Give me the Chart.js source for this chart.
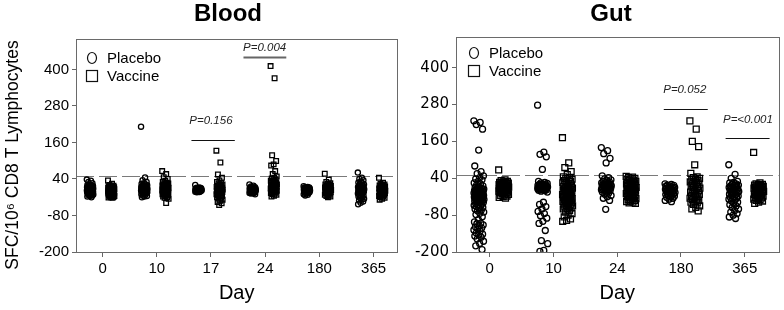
<!DOCTYPE html>
<html><head><meta charset="utf-8">
<script src="https://cdn.jsdelivr.net/npm/chart.js@4"></script>
<style>
html,body{margin:0;padding:0;background:#fff;width:784px;height:310px;overflow:hidden}
#b{position:absolute;left:0;top:0;width:402px;height:310px}
#g{position:absolute;left:402px;top:0;width:382px;height:310px}
</style></head><body>
<div id="b"><canvas id="cb"></canvas></div>
<div id="g"><canvas id="cg"></canvas></div>
<script>
// ---------------- DATA ----------------
const bloodDays = ['0', '10', '17', '24', '180', '365'];
const gutDays = ['0', '10', '24', '180', '365'];
const yTickValues = [-200, -80, 40, 160, 280, 400];
const referenceLevel = 50;
const yAxisTitle = 'SFC/10\u2076 CD8 T Lymphocytes';

const bloodPlacebo = [
  [38, 34, 30, 26, 22, 20, 19, 18, 17, 16, 15, 15, 14, 13, 13, 12, 11, 11, 10, 10, 9, 9, 8, 8, 7, 7, 6, 6, 5, 5, 4, 4, 3, 3, 2, 2, 1, 1, 0, 0, -1, -1, -2, -2, -3, -3, -4, -4, -5, -5, -6, -7, -8, -9, -10, -11, -12, -13, -14, -16, -18, -20],
  [212, 45, 36, 30, 26, 24, 22, 20, 19, 18, 17, 16, 15, 14, 13, 12, 11, 10, 10, 9, 9, 8, 8, 7, 7, 6, 6, 5, 5, 4, 4, 3, 3, 2, 2, 1, 1, 0, 0, -1, -2, -3, -4, -5, -6, -7, -8, -10, -12, -14, -16, -18, -20],
  [20, 12, 11, 10, 10, 9, 9, 8, 8, 7, 7, 7, 6, 6, 6, 5, 5, 5, 4, 4, 4, 3, 3, 3, 2, 2, 2, 1, 1, 1, 0, 0, -1, -1, -2, -3, -4],
  [22, 18, 15, 13, 12, 11, 10, 10, 9, 9, 8, 8, 7, 7, 6, 6, 5, 5, 4, 4, 3, 3, 2, 2, 1, 1, 0, 0, -1, -1, -2, -3, -4, -5, -6, -7, -8, -10],
  [16, 14, 13, 12, 11, 10, 10, 9, 9, 8, 8, 7, 7, 6, 6, 5, 5, 4, 4, 3, 3, 2, 2, 1, 1, 0, 0, -1, -2, -3, -4, -5, -6, -8, -10, -12, -14],
  [61, 44, 40, 36, 32, 28, 26, 24, 22, 20, 18, 17, 16, 14, 13, 12, 11, 10, 9, 8, 7, 6, 5, 4, 3, 2, 1, 0, -1, -2, -3, -4, -5, -6, -8, -10, -12, -14, -16, -18, -20, -22, -25, -28, -31, -34, -38, -43]
];
const bloodVaccine = [
  [35, 24, 20, 18, 17, 16, 15, 14, 13, 12, 12, 11, 10, 10, 9, 9, 8, 8, 7, 7, 6, 6, 5, 5, 4, 4, 3, 3, 2, 2, 1, 1, 0, 0, -1, -1, -2, -2, -3, -3, -4, -4, -5, -5, -6, -6, -7, -8, -9, -10, -11, -12, -13, -14, -15, -16, -17, -18, -19, -20, -21, -22],
  [66, 56, 46, 40, 34, 30, 28, 26, 25, 24, 22, 21, 20, 19, 18, 17, 16, 15, 14, 13, 12, 11, 10, 9, 9, 8, 8, 7, 6, 5, 5, 4, 3, 2, 2, 1, 0, 0, -1, -2, -3, -4, -5, -6, -7, -8, -9, -10, -11, -12, -14, -16, -18, -20, -22, -25, -39],
  [133, 94, 55, 44, 35, 30, 27, 25, 22, 20, 18, 17, 15, 14, 12, 11, 10, 9, 8, 7, 6, 5, 4, 3, 2, 1, 0, -1, -2, -3, -4, -5, -6, -8, -10, -12, -14, -16, -18, -20, -22, -25, -28, -32, -36, -40, -46],
  [411, 371, 118, 99, 88, 84, 66, 56, 48, 44, 42, 38, 36, 34, 32, 30, 28, 27, 26, 24, 23, 22, 21, 20, 19, 18, 17, 16, 15, 14, 13, 12, 11, 10, 9, 8, 7, 6, 5, 4, 3, 2, 1, 0, -1, -2, -4, -6, -8, -10, -12, -15, -18],
  [57, 38, 30, 26, 24, 22, 20, 18, 17, 16, 15, 14, 13, 12, 11, 10, 9, 8, 7, 6, 5, 4, 3, 2, 1, 0, -1, -2, -3, -4, -5, -6, -8, -10, -12, -14, -16, -18, -20],
  [44, 28, 24, 22, 20, 19, 18, 16, 15, 14, 12, 11, 10, 9, 8, 7, 6, 5, 4, 3, 2, 1, 0, -1, -2, -3, -4, -5, -6, -7, -8, -10, -12, -14, -16, -18, -20, -22, -25, -28]
];
const gutPlacebo = [
  [227, 222, 215, 200, 132, 80, 62, 55, 48, 42, 38, 35, 30, 25, 22, 18, 15, 12, 10, 8, 6, 5, 4, 3, 2, 1, 0, -1, -2, -3, -4, -5, -6, -7, -8, -9, -10, -11, -12, -13, -14, -15, -16, -17, -18, -19, -20, -21, -22, -23, -24, -25, -26, -27, -28, -29, -30, -31, -32, -33, -34, -35, -36, -38, -40, -42, -44, -46, -48, -50, -52, -55, -58, -60, -63, -66, -70, -74, -78, -85, -95, -102, -106, -108, -112, -115, -118, -122, -125, -128, -132, -138, -142, -145, -148, -152, -158, -165, -172, -180, -192],
  [278, 125, 118, 110, 69, 30, 27, 25, 23, 21, 20, 19, 18, 17, 16, 15, 15, 14, 14, 13, 13, 12, 12, 11, 11, 10, 10, 9, 9, 8, 8, 7, 7, 6, 6, 5, 4, 3, 2, 1, 0, -2, -5, -38, -45, -52, -60, -68, -75, -82, -90, -100, -107, -130, -163, -173, -195, -198],
  [140, 130, 120, 105, 90, 48, 42, 38, 35, 32, 30, 28, 26, 25, 24, 22, 21, 20, 19, 18, 17, 16, 15, 14, 13, 12, 11, 10, 9, 8, 7, 6, 5, 4, 3, 2, 1, 0, -2, -5, -8, -12, -16, -20, -25, -32, -61],
  [22, 20, 18, 17, 15, 14, 12, 11, 10, 9, 8, 7, 5, 4, 3, 2, 0, -1, -2, -3, -5, -6, -8, -9, -10, -12, -13, -15, -16, -18, -20, -22, -25, -28, -32, -36],
  [84, 53, 40, 30, 27, 25, 22, 20, 18, 17, 15, 14, 12, 10, 9, 7, 5, 4, 2, 0, -2, -3, -5, -6, -8, -10, -12, -14, -16, -18, -20, -22, -24, -26, -28, -30, -34, -38, -42, -46, -50, -55, -60, -65, -70, -75, -80, -86, -91]
];
const gutVaccine = [
  [67, 35, 32, 30, 28, 27, 26, 25, 24, 23, 22, 21, 20, 19, 18, 17, 16, 15, 14, 13, 12, 11, 10, 9, 8, 7, 6, 5, 4, 3, 2, 1, 0, -1, -2, -3, -4, -5, -6, -7, -8, -10, -12, -14, -16, -18, -20, -22, -25],
  [172, 90, 75, 62, 52, 45, 42, 40, 37, 35, 32, 30, 28, 25, 23, 20, 18, 15, 13, 12, 10, 8, 6, 5, 3, 2, 0, -2, -3, -5, -6, -8, -10, -12, -13, -15, -16, -18, -20, -22, -23, -25, -26, -28, -30, -32, -33, -35, -36, -38, -40, -42, -44, -46, -48, -50, -52, -54, -56, -58, -60, -65, -70, -75, -80, -86, -92, -97, -100],
  [46, 44, 42, 40, 38, 36, 34, 32, 30, 28, 26, 25, 24, 22, 20, 18, 17, 15, 14, 12, 11, 10, 8, 7, 5, 4, 2, 1, 0, -2, -3, -5, -6, -8, -10, -12, -14, -16, -18, -20, -22, -24, -26, -28, -30, -32, -34, -36, -38, -40, -42],
  [227, 200, 160, 143, 84, 56, 45, 42, 40, 37, 35, 32, 30, 28, 25, 22, 20, 18, 15, 13, 10, 8, 5, 3, 0, -2, -5, -8, -10, -12, -15, -18, -20, -22, -25, -28, -30, -33, -35, -38, -40, -45, -50, -55, -60, -66],
  [124, 25, 22, 20, 19, 18, 17, 15, 14, 12, 11, 10, 9, 8, 7, 5, 4, 2, 1, 0, -2, -3, -5, -6, -8, -10, -12, -14, -16, -18, -20, -22, -24, -26, -28, -30, -32, -34, -38, -42]
];
const bloodPValues = ['P=0.156', 'P=0.004'];
const gutPValues = ['P=0.052', 'P=<0.001'];

// ---------------- BUILD ----------------
function spread(i, hw) { return (((i * 0.6180339887) % 1) - 0.5) * 2 * hw; }
function toPoints(groups, offset, hw) {
  const pts = [];
  groups.forEach((vals, d) => vals.forEach((v, i) => pts.push({ x: d + offset + spread(i, hw), y: v })));
  return pts;
}

function panelPlugin(p) {
  return {
    id: 'panel',
    beforeDatasetsDraw(chart) {
      const { ctx, chartArea: a, scales: { y } } = chart;
      ctx.save();
      ctx.strokeStyle = '#7a7a7a'; ctx.lineWidth = 1; ctx.setLineDash([18, 5]);
      const yy = Math.round(y.getPixelForValue(referenceLevel)) + 0.5;
      ctx.beginPath(); ctx.moveTo(a.left, yy); ctx.lineTo(a.right, yy); ctx.stroke();
      ctx.restore();
    },
    afterDraw(chart) {
      const { ctx, chartArea: a, scales: { x, y } } = chart;
      ctx.save();
      ctx.strokeStyle = '#6a6a6a'; ctx.lineWidth = 1;
      ctx.strokeRect(Math.round(a.left) + 0.5, Math.round(a.top) + 0.5, Math.round(a.right - a.left), Math.round(a.bottom - a.top));
      ctx.fillStyle = '#000'; ctx.textAlign = 'center'; ctx.textBaseline = 'middle';
      ctx.font = 'bold 24px "Liberation Sans", Arial, sans-serif';
      ctx.fillText(p.title, p.titleX, 14);
      if (p.yTitle) {
        ctx.save();
        ctx.translate(13, 155); ctx.rotate(-Math.PI / 2);
        ctx.font = '17.5px "Liberation Sans", Arial, sans-serif';
        ctx.fillText(yAxisTitle, 0, 0);
        ctx.restore();
      }
      const lx = a.left + p.legX, ly1 = a.top + p.legY, ly2 = ly1 + 18;
      ctx.strokeStyle = '#111'; ctx.lineWidth = 1.2;
      ctx.beginPath(); ctx.ellipse(lx, ly1, 4.5, 5.5, 0, 0, Math.PI * 2); ctx.stroke();
      ctx.strokeRect(lx - 5.5, ly2 - 5.5, 11, 11);
      ctx.textAlign = 'left'; ctx.font = '15px "Liberation Sans", Arial, sans-serif';
      ctx.fillText('Placebo', lx + 15, ly1 + 1);
      ctx.fillText('Vaccine', lx + 15, ly2 + 1);
      p.pvals.forEach((pv, k) => {
        const ln = p.lines[k];
        const yl = Math.round(y.getPixelForValue(ln.y)) + 0.5;
        ctx.strokeStyle = ln.color; ctx.lineWidth = ln.w;
        ctx.beginPath(); ctx.moveTo(x.getPixelForValue(ln.x1), yl); ctx.lineTo(x.getPixelForValue(ln.x2), yl); ctx.stroke();
        ctx.fillStyle = '#222'; ctx.textAlign = 'center'; ctx.textBaseline = 'middle';
        ctx.font = 'italic 11.5px "Liberation Sans", Arial, sans-serif';
        ctx.fillText(pv, x.getPixelForValue(ln.tx), y.getPixelForValue(ln.ty));
      });
      ctx.restore();
    }
  };
}

function makeChart(id, cfg) {
  const tickFont = { family: '"Liberation Sans", Arial, sans-serif', size: 15 };
  new Chart(document.getElementById(id), {
    type: 'scatter',
    data: {
      datasets: [
        { label: 'Placebo', data: toPoints(cfg.placebo, cfg.pOff, cfg.hw), pointStyle: 'circle', pointRadius: cfg.cr,
          borderColor: '#000', backgroundColor: 'rgba(255,255,255,0)', borderWidth: 1.3, pointHoverRadius: cfg.cr },
        { label: 'Vaccine', data: toPoints(cfg.vaccine, cfg.vOff, cfg.hw), pointStyle: 'rect', pointRadius: cfg.sr,
          borderColor: '#000', backgroundColor: 'rgba(255,255,255,0)', borderWidth: 1.3, pointHoverRadius: cfg.sr }
      ]
    },
    options: {
      responsive: true, maintainAspectRatio: false, animation: false, devicePixelRatio: 1,
      layout: { padding: { top: cfg.top, right: cfg.right, left: 0, bottom: 0 } },
      plugins: { legend: { display: false }, tooltip: { enabled: false } },
      scales: {
        x: {
          type: 'linear', min: cfg.xmin, max: cfg.xmax,
          afterBuildTicks: s => { s.ticks = cfg.days.map((_, i) => ({ value: i })); },
          afterFit: s => { s.height = 58; },
          ticks: { callback: v => cfg.days[v], font: tickFont, color: '#000', padding: 3, autoSkip: false, maxRotation: 0 },
          grid: { drawOnChartArea: false, tickLength: 5, color: '#666' },
          border: { color: '#666' },
          title: { display: true, text: 'Day', color: '#000', font: { family: '"Liberation Sans", Arial, sans-serif', size: 20 }, padding: { top: 0, bottom: 5 } }
        },
        y: {
          min: -200, max: 500,
          afterBuildTicks: s => { s.ticks = yTickValues.map(v => ({ value: v })); },
          afterFit: s => { s.width = cfg.yw; },
          ticks: { font: cfg.yFont, color: '#000', padding: 3 },
          grid: { drawOnChartArea: false, tickLength: 4, color: '#666' },
          border: { color: '#666' }
        }
      }
    },
    plugins: [panelPlugin(cfg.panel)]
  });
}

makeChart('cb', {
  days: bloodDays, placebo: bloodPlacebo, vaccine: bloodVaccine,
  pOff: -0.23, vOff: 0.16, hw: 0.06, cr: 2.6, sr: 3.3,
  xmin: -0.49, xmax: 5.44, top: 39, right: 4, yw: 76,
  yFont: { family: '"Liberation Sans", Arial, sans-serif', size: 15 },
  panel: {
    title: 'Blood', titleX: 228, legX: 16, legY: 19, pvals: bloodPValues, yTitle: true,
    lines: [
      { x1: 1.64, x2: 2.44, y: 168, tx: 2.0, ty: 232, color: '#111', w: 1.2 },
      { x1: 2.60, x2: 3.39, y: 440, tx: 2.99, ty: 472, color: '#666', w: 2 }
    ]
  }
});
makeChart('cg', {
  days: gutDays, placebo: gutPlacebo, vaccine: gutVaccine,
  pOff: -0.17, vOff: 0.22, hw: 0.08, cr: 3, sr: 4.2,
  xmin: -0.53, xmax: 4.53, top: 37, right: 5, yw: 54,
  yFont: { family: '"DejaVu Sans", sans-serif', size: 15 },
  panel: {
    title: 'Gut', titleX: 209, legX: 18, legY: 16, pvals: gutPValues, yTitle: false,
    lines: [
      { x1: 2.73, x2: 3.42, y: 267, tx: 3.06, ty: 329, color: '#111', w: 1.2 },
      { x1: 3.70, x2: 4.39, y: 172, tx: 4.05, ty: 231, color: '#111', w: 1.2 }
    ]
  }
});
</script>
</body></html>
